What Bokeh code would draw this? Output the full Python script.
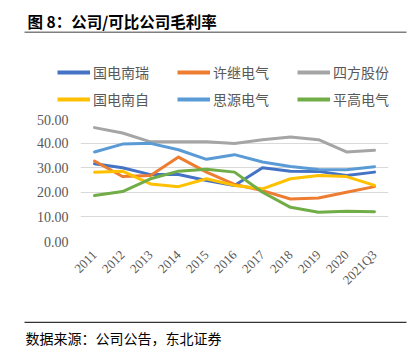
import math
from bokeh.plotting import figure
from bokeh.models import (FixedTicker, NumeralTickFormatter, Legend, LegendItem,
                          Label, BoxAnnotation, Range1d)
from bokeh.embed import file_html
from bokeh.resources import INLINE

# ---- data ----
periods = ["2011", "2012", "2013", "2014", "2015", "2016", "2017", "2018", "2019", "2020", "2021Q3"]
names = ["国电南瑞", "许继电气", "四方股份", "国电南自", "思源电气", "平高电气"]
nari = [31.6, 30.0, 27.2, 27.2, 24.8, 22.8, 30.0, 28.6, 28.5, 26.8, 28.2]
xuji = [32.7, 26.4, 26.8, 34.3, 28.2, 23.2, 20.7, 17.3, 17.7, 20.0, 22.3]
sifang = [46.3, 44.1, 40.5, 40.5, 40.5, 39.8, 41.4, 42.5, 41.4, 36.4, 37.1]
sac = [28.2, 28.6, 23.4, 22.3, 25.5, 22.8, 21.4, 25.5, 26.8, 26.4, 22.8]
sieyuan = [36.4, 39.6, 39.9, 37.3, 33.4, 35.3, 32.3, 30.5, 29.3, 29.2, 30.4]
pinggao = [18.7, 20.3, 25.5, 28.6, 29.4, 28.2, 20.0, 13.9, 11.9, 12.3, 12.1]
y_ticks = [0, 10, 20, 30, 40, 50]
title_text = "图 8：公司/可比公司毛利率"
source_text = "数据来源：公司公告，东北证券"

series = [nari, xuji, sifang, sac, sieyuan, pinggao]
colors = ["#4472C4", "#ED7D31", "#A5A5A5", "#FFC000", "#5B9BD5", "#70AD47"]

CJK = "Noto Sans CJK SC"
SERIF = "Liberation Serif"
W = 419
NAN = float("nan")


def blank_fig(h):
    f = figure(width=W, height=h, output_backend="svg", toolbar_location=None,
               x_axis_type=None, y_axis_type=None,
               x_range=Range1d(0, W), y_range=Range1d(h, 0),
               min_border=0, min_border_left=0, min_border_right=0,
               min_border_top=0, min_border_bottom=0)
    f.outline_line_color = None
    f.background_fill_color = "white"
    f.border_fill_color = "white"
    return f


# ---- top: title, rule, legend ----
TOP_H = 114
top = blank_fig(TOP_H)
top.add_layout(Label(x=27, y=20, text=title_text, text_font=CJK, text_font_size="15.5px",
                     text_font_style="bold", text_color="#000000",
                     text_baseline="middle", text_align="left"))
top.add_layout(BoxAnnotation(left=24, right=406, top=31.0, bottom=32.5,
                             fill_color="#7F7F7F", fill_alpha=1, line_color=None))
proxies = [top.line(x=[NAN], y=[NAN], line_color=c, line_width=4) for c in colors]
legend = Legend(items=[LegendItem(label=n, renderers=[r]) for n, r in zip(names, proxies)],
                location=(57, 5), orientation="horizontal", ncols=3,
                glyph_width=33, glyph_height=20, label_height=20, label_width=77,
                label_standoff=3, spacing=7, padding=0, margin=0,
                border_line_color=None, background_fill_alpha=0,
                label_text_font=CJK, label_text_font_size="14px",
                label_text_color="#595959")
top.add_layout(legend, "center")

# ---- main chart ----
MAIN_H = 198
p = figure(width=W, height=MAIN_H, output_backend="svg", toolbar_location=None,
           x_range=(-0.5, len(periods) - 0.5), y_range=(0, 50),
           min_border_left=80, min_border_right=31, min_border_top=4,
           min_border_bottom=71)
p.outline_line_color = None
p.background_fill_color = "white"
p.border_fill_color = "white"

xs = list(range(len(periods)))
for vals, c in zip(series, colors):
    p.line(xs, vals, line_color=c, line_width=3, line_join="round", line_cap="round")

p.xaxis.ticker = FixedTicker(ticks=xs)
p.xaxis.major_label_overrides = {i: s for i, s in enumerate(periods)}
p.xaxis.major_label_orientation = math.pi / 4
p.xaxis.axis_line_color = None
p.xaxis.major_tick_line_color = None
p.xaxis.minor_tick_line_color = None
p.xaxis.major_tick_out = 0
p.xaxis.major_tick_in = 0
p.xaxis.major_label_text_font = SERIF
p.xaxis.major_label_text_font_size = "13px"
p.xaxis.major_label_text_color = "#595959"
p.xaxis.major_label_standoff = 11

p.yaxis.ticker = FixedTicker(ticks=y_ticks)
p.yaxis.formatter = NumeralTickFormatter(format="0.00")
p.yaxis.axis_line_color = None
p.yaxis.major_tick_line_color = None
p.yaxis.minor_tick_line_color = None
p.yaxis.major_tick_out = 0
p.yaxis.major_tick_in = 0
p.yaxis.major_label_text_font = SERIF
p.yaxis.major_label_text_font_size = "14px"
p.yaxis.major_label_text_color = "#595959"
p.yaxis.major_label_standoff = 12

p.xgrid.grid_line_color = None
p.ygrid.grid_line_color = "#D9D9D9"
p.ygrid.grid_line_width = 1

# ---- bottom: rule and source ----
BOT_H = 40
bot = blank_fig(BOT_H)
bot.add_layout(BoxAnnotation(left=24, right=406, top=9.2, bottom=10.4,
                             fill_color="#333333", fill_alpha=1, line_color=None))
bot.add_layout(Label(x=25, y=25, text=source_text, text_font=CJK, text_font_size="14px",
                     text_color="#000000", text_baseline="middle", text_align="left"))

open("out.html", "w").write(file_html([top, p, bot], INLINE))
